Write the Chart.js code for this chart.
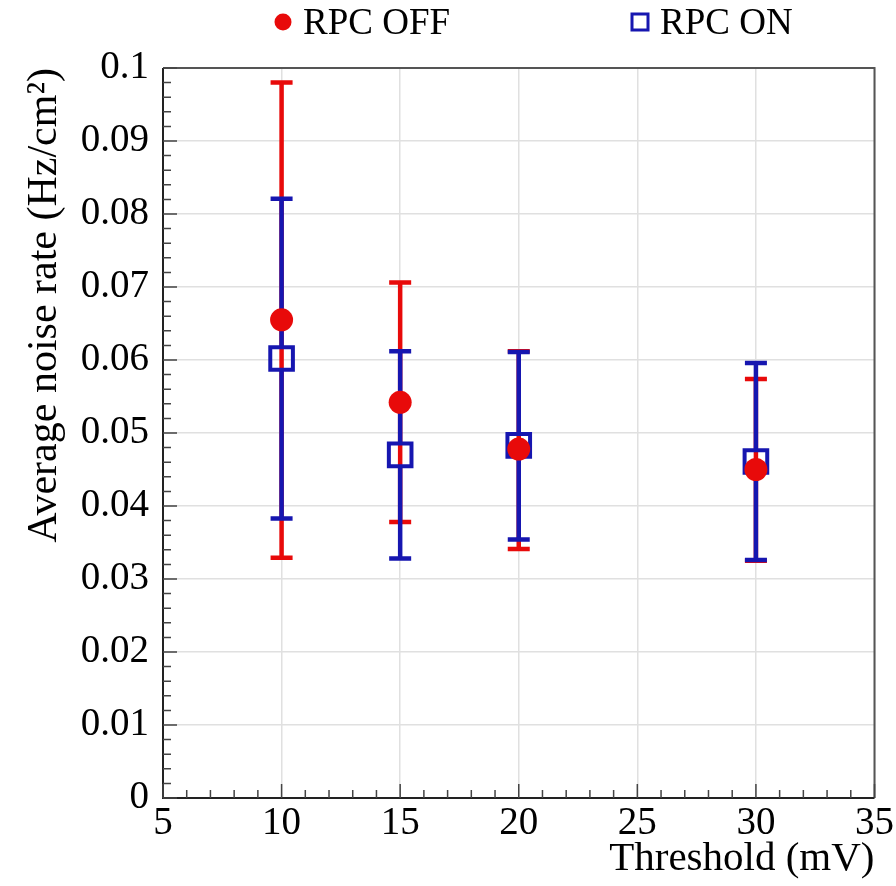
<!DOCTYPE html>
<html>
<head>
<meta charset="utf-8">
<script src="https://cdn.jsdelivr.net/npm/chart.js@4/dist/chart.umd.min.js"></script>
<style>
  html, body { margin: 0; padding: 0; background: #fff; }
  #wrap { width: 896px; height: 886px; }
</style>
</head>
<body>
<div id="wrap"><canvas id="chart" width="896" height="886"></canvas></div>
<script>
// thresholds (mV)
var thresholds = [10, 15, 20, 30];

// RPC OFF: mean and error bar ends
var offMean = [0.0655, 0.0542, 0.0478, 0.0450];
var offLow  = [0.0329, 0.0378, 0.0341, 0.0325];
var offHigh = [0.0980, 0.0706, 0.0612, 0.0574];

// RPC ON
var onMean = [0.0602, 0.0470, 0.0483, 0.0461];
var onLow  = [0.0383, 0.0328, 0.0354, 0.0326];
var onHigh = [0.0821, 0.0612, 0.0611, 0.0596];

var xTicks = [5, 10, 15, 20, 25, 30, 35];
var yTicks = [0, 0.01, 0.02, 0.03, 0.04, 0.05, 0.06, 0.07, 0.08, 0.09, 0.1];

var RED = "#e80a0a";
var BLUE = "#1616b0";
var FONT = "'Liberation Serif', 'DejaVu Serif', serif";

function pts(ys) {
    return thresholds.map(function (x, i) { return { x: x, y: ys[i] }; });
}

// error bars, with a gap where the marker sits (ROOT style)
var errorBars = {
    id: "errorBars",
    beforeDatasetsDraw: function (chart) {
        var ctx = chart.ctx;
        var xs = chart.scales.x, ys = chart.scales.y;
        [0, 1].forEach(function (di) {
            var ds = chart.data.datasets[di];
            ctx.save();
            ctx.strokeStyle = ds.borderColor;
            ctx.lineWidth = 4.5;
            ds.data.forEach(function (p, i) {
                var px = xs.getPixelForValue(p.x);
                var py = ys.getPixelForValue(p.y);
                var lo = ys.getPixelForValue(ds.errLow[i]);
                var hi = ys.getPixelForValue(ds.errHigh[i]);
                var gap = ds.gap;
                ctx.beginPath();
                ctx.moveTo(px, hi);
                ctx.lineTo(px, py - gap);
                ctx.moveTo(px, py + gap);
                ctx.lineTo(px, lo);
                ctx.moveTo(px - 11, hi);
                ctx.lineTo(px + 11, hi);
                ctx.moveTo(px - 11, lo);
                ctx.lineTo(px + 11, lo);
                ctx.stroke();
            });
            ctx.restore();
        });
    }
};

// frame, inside ticks (major + minor)
var frame = {
    id: "frame",
    afterDatasetsDraw: function (chart) {
        var ctx = chart.ctx;
        var a = chart.chartArea;
        var xs = chart.scales.x, ys = chart.scales.y;
        ctx.save();
        ctx.lineWidth = 2;
        ctx.strokeStyle = "#555";
        ctx.beginPath();
        ctx.moveTo(a.left, a.top);
        ctx.lineTo(a.right, a.top);
        ctx.lineTo(a.right, a.bottom);
        ctx.stroke();
        ctx.strokeStyle = "#222";
        ctx.beginPath();
        ctx.moveTo(a.left, a.top);
        ctx.lineTo(a.left, a.bottom);
        ctx.lineTo(a.right, a.bottom);
        ctx.stroke();

        ctx.lineWidth = 1.5;
        ctx.strokeStyle = "#444";
        ctx.beginPath();
        for (var v = 5; v <= 35; v += 1) {
            var x = xs.getPixelForValue(v);
            var len = (v % 5 === 0) ? 14 : 8;
            ctx.moveTo(x, a.bottom);
            ctx.lineTo(x, a.bottom - len);
        }
        for (var k = 0; k <= 50; k++) {
            var y = ys.getPixelForValue(k * 0.002);
            var l = (k % 5 === 0) ? 14 : 8;
            ctx.moveTo(a.left, y);
            ctx.lineTo(a.left + l, y);
        }
        ctx.stroke();
        ctx.restore();
    }
};

// legend across the top
var topLegend = {
    id: "topLegend",
    afterDraw: function (chart) {
        var ctx = chart.ctx;
        var marks = [283, 640];
        ctx.save();
        ctx.font = "37px " + FONT;
        ctx.textBaseline = "middle";
        chart.data.datasets.forEach(function (ds, i) {
            var cx = marks[i], cy = 22;
            if (ds.pointStyle === "circle") {
                ctx.beginPath();
                ctx.arc(cx, cy, 8.5, 0, Math.PI * 2);
                ctx.fillStyle = ds.backgroundColor;
                ctx.fill();
            } else {
                ctx.lineWidth = 3;
                ctx.strokeStyle = ds.borderColor;
                ctx.strokeRect(cx - 8, cy - 8, 16, 16);
            }
            ctx.fillStyle = "#000";
            ctx.fillText(ds.label, cx + 20, cy + 2);
        });
        ctx.restore();
    }
};

var ctx = document.getElementById("chart").getContext("2d");

var chart = new Chart(ctx, {
    type: "scatter",
    data: {
        datasets: [
            {
                label: "RPC OFF",
                data: pts(offMean),
                errLow: offLow,
                errHigh: offHigh,
                gap: 0,
                pointStyle: "circle",
                pointRadius: 11.5,
                pointBorderWidth: 0,
                backgroundColor: RED,
                borderColor: RED
            },
            {
                label: "RPC ON",
                data: pts(onMean),
                errLow: onLow,
                errHigh: onHigh,
                gap: 12,
                pointStyle: "rect",
                pointRadius: 16,
                pointBorderWidth: 4,
                backgroundColor: "rgba(0,0,0,0)",
                borderColor: BLUE
            }
        ]
    },
    options: {
        responsive: false,
        animation: false,
        layout: { padding: { top: 68, right: 20, left: 0, bottom: 2 } },
        plugins: {
            legend: { display: false },
            tooltip: { enabled: false }
        },
        scales: {
            x: {
                type: "linear",
                min: 5,
                max: 35,
                afterBuildTicks: function (s) { s.ticks = xTicks.map(function (v) { return { value: v }; }); },
                ticks: {
                    font: { family: FONT, size: 39 },
                    color: "#000",
                    padding: 2,
                    maxRotation: 0
                },
                grid: { color: "#e0e0e0", lineWidth: 1.5, drawTicks: false },
                border: { display: false },
                title: {
                    display: true,
                    text: "Threshold (mV)",
                    align: "end",
                    font: { family: FONT, size: 41 },
                    color: "#000",
                    padding: { top: 0, bottom: 0 }
                },
                afterFit: function (s) { s.height = 86; }
            },
            y: {
                type: "linear",
                min: 0,
                max: 0.1,
                afterBuildTicks: function (s) { s.ticks = yTicks.map(function (v) { return { value: v }; }); },
                ticks: {
                    font: { family: FONT, size: 39 },
                    color: "#000",
                    padding: 14,
                    callback: function (v) { return String(+v.toFixed(3)); }
                },
                grid: { color: "#e0e0e0", lineWidth: 1.5, drawTicks: false },
                border: { display: false },
                title: {
                    display: true,
                    text: "Average noise rate (Hz/cm\u00B2)",
                    align: "end",
                    font: { family: FONT, size: 42 },
                    color: "#000",
                    padding: { top: 20, bottom: 0 }
                },
                afterFit: function (s) { s.width = 163; }
            }
        }
    },
    plugins: [errorBars, frame, topLegend]
});
</script>
</body>
</html>
